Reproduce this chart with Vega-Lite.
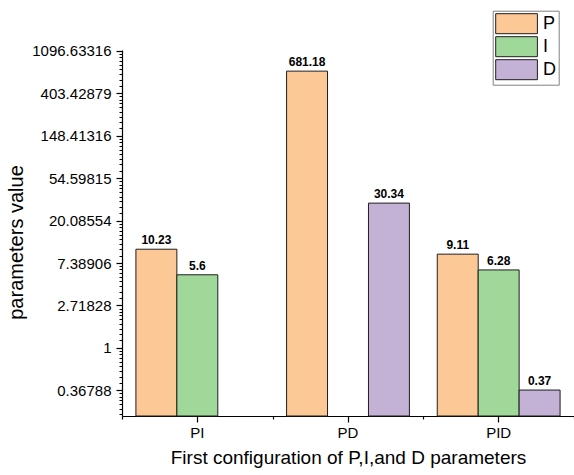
{
  "$schema": "https://vega.github.io/schema/vega-lite/v6.json",
  "autosize": {"type": "none"},
  "padding": {"left": 122, "top": 50, "right": 0, "bottom": 59},
  "width": 452,
  "height": 366,
  "background": "white",
  "config": {
    "view": {"stroke": null},
    "font": "Liberation Sans",
    "axis": {
      "grid": false,
      "domainColor": "#000000",
      "domainWidth": 1.2,
      "tickColor": "#000000",
      "tickWidth": 1.2,
      "labelColor": "#000000",
      "titleColor": "#000000",
      "labelFont": "Liberation Sans",
      "titleFont": "Liberation Sans",
      "titleFontWeight": "normal"
    }
  },
  "data": {
    "values": [
      {"config": "PI", "param": "P", "value": 10.23},
      {"config": "PI", "param": "I", "value": 5.6},
      {"config": "PD", "param": "P", "value": 681.18},
      {"config": "PD", "param": "D", "value": 30.34},
      {"config": "PID", "param": "P", "value": 9.11},
      {"config": "PID", "param": "I", "value": 6.28},
      {"config": "PID", "param": "D", "value": 0.37}
    ]
  },
  "encoding": {
    "x": {
      "field": "config",
      "type": "nominal",
      "sort": ["PI", "PD", "PID"],
      "scale": {"paddingInner": 0, "paddingOuter": 0}
    },
    "xOffset": {
      "field": "param",
      "type": "nominal",
      "scale": {"domain": ["P", "I", "D"], "paddingInner": 0, "paddingOuter": 0.34}
    },
    "y": {
      "field": "value",
      "type": "quantitative",
      "stack": null,
      "scale": {"type": "log", "domain": [0.2007, 1121], "nice": false}
    }
  },
  "layer": [
    {
      "mark": {"type": "bar", "stroke": "#1e1e1e", "strokeWidth": 1},
      "encoding": {
        "x": {
          "field": "config",
          "type": "nominal",
          "sort": ["PI", "PD", "PID"],
          "scale": {"paddingInner": 0, "paddingOuter": 0},
          "axis": {
            "title": "First configuration of P,I,and D parameters",
            "titleFontSize": 19,
            "titlePadding": 8,
            "labelFontSize": 15,
            "labelAngle": 0,
            "labelPadding": 3,
            "tickSize": 6
          }
        },
        "y": {
          "field": "value",
          "type": "quantitative",
          "stack": null,
          "scale": {"type": "log", "domain": [0.2007, 1121], "nice": false},
          "axis": {
            "title": "parameters value",
            "titleFontSize": 20,
            "titlePadding": 5,
            "titleY": 192,
            "labelFontSize": 15,
            "labelPadding": 5,
            "labelOverlap": false,
            "tickSize": 6,
            "labelExpr": "datum.value == 1 ? '1' : format(datum.value, '.5f')",
            "values": [
              0.36787944117144233, 1, 2.718281828459045, 7.38905609893065,
              20.085536923187668, 54.598150033144236, 148.4131591025766,
              403.4287934927351, 1096.6331584284585
            ]
          }
        },
        "color": {
          "field": "param",
          "type": "nominal",
          "scale": {"domain": ["P", "I", "D"], "range": ["#FCC896", "#A0D89A", "#C3B2D6"]},
          "legend": {
            "title": null,
            "orient": "none",
            "legendX": 370.7,
            "legendY": -39.3,
            "strokeColor": "#808080",
            "padding": 2.5,
            "symbolType": "M-1,-1H3.17V1H-1Z",
            "symbolSize": 400,
            "symbolStrokeColor": "#1e1e1e",
            "symbolStrokeWidth": 1,
            "symbolOpacity": 1,
            "labelFontSize": 18,
            "labelFont": "Liberation Sans",
            "labelColor": "#000000",
            "labelOffset": 26.7,
            "rowPadding": -3
          }
        }
      }
    },
    {
      "mark": {"type": "text", "fontWeight": "bold", "fontSize": 12, "font": "Liberation Sans", "baseline": "bottom", "dy": -2, "color": "#000000"},
      "encoding": {
        "x": {
          "field": "config",
          "type": "nominal",
          "sort": ["PI", "PD", "PID"],
          "scale": {"paddingInner": 0, "paddingOuter": 0},
          "axis": {
            "orient": "bottom",
            "tickBand": "extent",
            "labels": false,
            "domain": false,
            "tickSize": 3,
            "title": null
          }
        },
        "y": {
          "field": "value",
          "type": "quantitative",
          "stack": null,
          "scale": {"type": "log", "domain": [0.2007, 1121], "nice": false},
          "axis": {
            "orient": "left",
            "labels": false,
            "domain": false,
            "title": null,
            "tickSize": 3,
            "tickWidth": 1,
            "values": [
              0.212849, 0.238688, 0.264526, 0.290364, 0.316202, 0.342041,
              0.438115, 0.508351, 0.578587, 0.648823, 0.71906, 0.789296, 0.859532, 0.929768,
              1.19092, 1.38184, 1.572761, 1.763681, 1.954601, 2.145521, 2.336441, 2.527361,
              3.237257, 3.756232, 4.275207, 4.794182, 5.313157, 5.832132, 6.351107, 6.870082,
              8.799776, 10.210496, 11.621216, 13.031936, 14.442656, 15.853376, 17.264096, 18.674816,
              23.920272, 27.755007, 31.589742, 35.424477, 39.259212, 43.093947, 46.928682, 50.763417,
              65.02204, 75.44593, 85.86982, 96.29371, 106.7176, 117.14149, 127.56538, 137.98927,
              176.748229, 205.083299, 233.418369, 261.753439, 290.088509, 318.423579, 346.758649, 375.093719,
              480.4515, 557.474207, 634.496914, 711.519621, 788.542328, 865.565035, 942.587742, 1019.610449
            ]
          }
        },
        "text": {"field": "value", "type": "nominal"}
      }
    }
  ],
  "resolve": {"axis": {"x": "independent", "y": "independent"}}
}
